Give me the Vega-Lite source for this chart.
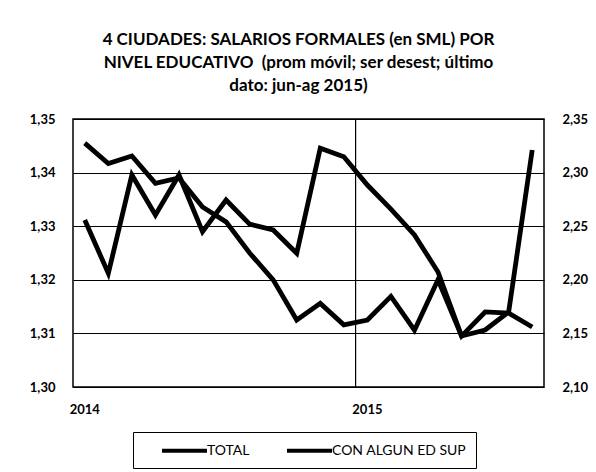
{
  "$schema": "https://vega.github.io/schema/vega-lite/v6.json",
  "width": 471,
  "height": 268,
  "autosize": "none",
  "padding": {"left": 73, "top": 119, "right": 52, "bottom": 85},
  "background": "white",
  "title": {
    "text": ["4 CIUDADES: SALARIOS FORMALES (en SML) POR", "NIVEL EDUCATIVO \u00a0(prom móvil; ser desest; último", "dato: jun-ag 2015)"],
    "font": "Lato",
    "fontSize": 17,
    "fontWeight": "bold",
    "color": "#000",
    "lineHeight": 23,
    "anchor": "middle",
    "dx": -10,
    "offset": 18
  },
  "config": {
    "view": {"stroke": "#000", "strokeWidth": 1.5},
    "axis": {"labelFont": "Lato", "labelFontWeight": "bold", "labelFontSize": 13, "labelColor": "#000", "ticks": false, "domain": false, "title": null},
    "legend": {"labelFont": "Lato", "labelFontSize": 14, "labelColor": "#000"}
  },
  "data": {
    "values": [
      {"mes": "2014-01", "serie": "TOTAL", "v": 1.3455},
      {"mes": "2014-02", "serie": "TOTAL", "v": 1.3417},
      {"mes": "2014-03", "serie": "TOTAL", "v": 1.3431},
      {"mes": "2014-04", "serie": "TOTAL", "v": 1.3380},
      {"mes": "2014-05", "serie": "TOTAL", "v": 1.3390},
      {"mes": "2014-06", "serie": "TOTAL", "v": 1.3336},
      {"mes": "2014-07", "serie": "TOTAL", "v": 1.3308},
      {"mes": "2014-08", "serie": "TOTAL", "v": 1.3250},
      {"mes": "2014-09", "serie": "TOTAL", "v": 1.3200},
      {"mes": "2014-10", "serie": "TOTAL", "v": 1.3125},
      {"mes": "2014-11", "serie": "TOTAL", "v": 1.3156},
      {"mes": "2014-12", "serie": "TOTAL", "v": 1.3116},
      {"mes": "2015-01", "serie": "TOTAL", "v": 1.3125},
      {"mes": "2015-02", "serie": "TOTAL", "v": 1.3169},
      {"mes": "2015-03", "serie": "TOTAL", "v": 1.3106},
      {"mes": "2015-04", "serie": "TOTAL", "v": 1.3200},
      {"mes": "2015-05", "serie": "TOTAL", "v": 1.3095},
      {"mes": "2015-06", "serie": "TOTAL", "v": 1.3140},
      {"mes": "2015-07", "serie": "TOTAL", "v": 1.3138},
      {"mes": "2015-08", "serie": "TOTAL", "v": 1.3112},
      {"mes": "2014-01", "serie": "CON ALGUN ED SUP", "v": 2.2558},
      {"mes": "2014-02", "serie": "CON ALGUN ED SUP", "v": 2.2060},
      {"mes": "2014-03", "serie": "CON ALGUN ED SUP", "v": 2.2978},
      {"mes": "2014-04", "serie": "CON ALGUN ED SUP", "v": 2.2604},
      {"mes": "2014-05", "serie": "CON ALGUN ED SUP", "v": 2.2978},
      {"mes": "2014-06", "serie": "CON ALGUN ED SUP", "v": 2.2449},
      {"mes": "2014-07", "serie": "CON ALGUN ED SUP", "v": 2.2744},
      {"mes": "2014-08", "serie": "CON ALGUN ED SUP", "v": 2.2520},
      {"mes": "2014-09", "serie": "CON ALGUN ED SUP", "v": 2.2465},
      {"mes": "2014-10", "serie": "CON ALGUN ED SUP", "v": 2.2247},
      {"mes": "2014-11", "serie": "CON ALGUN ED SUP", "v": 2.3227},
      {"mes": "2014-12", "serie": "CON ALGUN ED SUP", "v": 2.3148},
      {"mes": "2015-01", "serie": "CON ALGUN ED SUP", "v": 2.2884},
      {"mes": "2015-02", "serie": "CON ALGUN ED SUP", "v": 2.2660},
      {"mes": "2015-03", "serie": "CON ALGUN ED SUP", "v": 2.2418},
      {"mes": "2015-04", "serie": "CON ALGUN ED SUP", "v": 2.2073},
      {"mes": "2015-05", "serie": "CON ALGUN ED SUP", "v": 2.1476},
      {"mes": "2015-06", "serie": "CON ALGUN ED SUP", "v": 2.1532},
      {"mes": "2015-07", "serie": "CON ALGUN ED SUP", "v": 2.1700},
      {"mes": "2015-08", "serie": "CON ALGUN ED SUP", "v": 2.3211}
    ]
  },
  "encoding": {
    "x": {
      "field": "mes",
      "type": "ordinal",
      "scale": {"type": "band", "paddingInner": 0, "paddingOuter": 0},
      "axis": {"values": ["2014-01", "2015-01"], "labelExpr": "substring(datum.value, 0, 4)", "labelAngle": 0, "labelPadding": 16, "grid": false}
    }
  },
  "layer": [
    {
      "transform": [{"filter": "datum.serie == 'TOTAL'"}],
      "mark": {"type": "line", "strokeWidth": 4.8},
      "encoding": {
        "y": {
          "field": "v",
          "type": "quantitative",
          "scale": {"domain": [1.30, 1.35], "nice": false, "zero": false},
          "axis": {"orient": "left", "values": [1.30, 1.31, 1.32, 1.33, 1.34, 1.35], "labelExpr": "replace(format(datum.value, '.2f'), '.', ',')", "labelPadding": 18, "grid": true, "gridColor": "#000", "gridWidth": 1, "gridOpacity": 1}
        },
        "color": {
          "field": "serie",
          "type": "nominal",
          "scale": {"domain": ["TOTAL", "CON ALGUN ED SUP"], "range": ["#000000", "#000000"]},
          "legend": {
            "orient": "none",
            "legendX": 60,
            "legendY": 313,
            "direction": "horizontal",
            "title": null,
            "strokeColor": "#000",
            "padding": 9,
            "symbolType": "M-3,0H3",
            "symbolSize": 225,
            "symbolStrokeWidth": 4,
            "symbolOffset": 33,
            "labelOffset": 13,
            "columnPadding": 17,
            "labelLimit": 300
          }
        }
      }
    },
    {
      "transform": [{"filter": "datum.serie == 'CON ALGUN ED SUP'"}],
      "mark": {"type": "line", "strokeWidth": 4.8},
      "encoding": {
        "y": {
          "field": "v",
          "type": "quantitative",
          "scale": {"domain": [2.10, 2.35], "nice": false, "zero": false},
          "axis": {"orient": "right", "values": [2.10, 2.15, 2.20, 2.25, 2.30, 2.35], "labelExpr": "replace(format(datum.value, '.2f'), '.', ',')", "labelPadding": 18, "grid": false}
        },
        "color": {"field": "serie", "type": "nominal"}
      }
    },
    {
      "data": {"values": [{"mes": "2015-01"}]},
      "mark": {"type": "rule", "color": "#000", "strokeWidth": 1.2},
      "encoding": {
        "x": {"field": "mes", "type": "ordinal", "bandPosition": 0}
      }
    }
  ],
  "resolve": {"scale": {"y": "independent"}}
}
